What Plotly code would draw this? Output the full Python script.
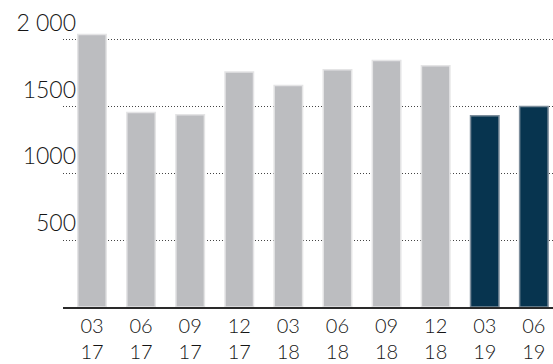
import plotly.graph_objects as go

months = ["03", "06", "09", "12", "03", "06", "09", "12", "03", "06"]
years = ["17", "17", "17", "17", "18", "18", "18", "18", "19", "19"]
values = [2040, 1455, 1438, 1758, 1657, 1775, 1845, 1805, 1432, 1500]
highlight = [False] * 8 + [True] * 2

y_tickvals = [500, 1000, 1500, 2000]
y_ticktext = ["500", "1000", "1500", "2 000"]

GRAY = "#bcbdc0"
GRAY_EDGE = "#e4e4e5"
NAVY = "#07344f"
NAVY_EDGE = "#7d8e9c"
TEXT = "#151515"

xs = list(range(len(values)))
cats = [f"{m}<br>{y}" for m, y in zip(months, years)]

fig = go.Figure()
fig.add_trace(go.Bar(
    x=xs,
    y=values,
    width=0.58,
    marker=dict(
        color=[NAVY if h else GRAY for h in highlight],
        line=dict(color=[NAVY_EDGE if h else GRAY_EDGE for h in highlight], width=1.5),
    ),
    hoverinfo="skip",
))

FONT = "Lato"
fig.update_layout(
    width=553,
    height=364,
    margin=dict(l=63, r=0, t=20, b=57),
    paper_bgcolor="white",
    plot_bgcolor="white",
    showlegend=False,
    font=dict(family=FONT, color=TEXT, weight=300),
    xaxis=dict(
        range=[-0.59, 9.39],
        tickmode="array",
        tickvals=xs,
        ticktext=cats,
        tickfont=dict(family=FONT, size=20, color=TEXT, weight=300),
        showgrid=False,
        showline=True,
        linecolor="#2a2a2a",
        linewidth=1.5,
        ticks="",
        zeroline=False,
        fixedrange=True,
    ),
    yaxis=dict(
        range=[0, 2148],
        tickmode="array",
        tickvals=y_tickvals,
        ticktext=y_ticktext,
        tickfont=dict(family=FONT, size=23, color=TEXT, weight=300),
        showgrid=True,
        gridcolor="#444444",
        gridwidth=1,
        griddash="1px,2px",
        zeroline=False,
        showline=False,
        ticks="",
        ticklabelshift=-17,
        ticklabelstandoff=-14,
        fixedrange=True,
    ),
)

fig.write_html(
    "out.html",
    config={"displayModeBar": False, "staticPlot": True},
    post_script="document.body.style.margin='0';document.body.style.overflow='hidden';",
)
